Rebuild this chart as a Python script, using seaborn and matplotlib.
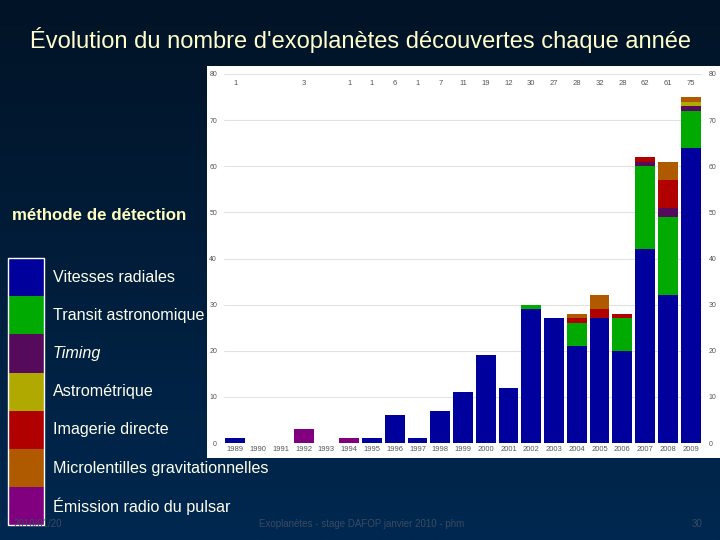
import numpy as np
import pandas as pd
import matplotlib
matplotlib.use("Agg")
import matplotlib.pyplot as plt
from matplotlib.patches import Rectangle
import seaborn as sns

# ---------------- data ----------------
years = list(range(1989, 2010))
totals_labels = ["1", "", "", "3", "", "1", "1", "6", "1", "7", "11", "19", "12",
                 "30", "27", "28", "32", "28", "62", "61", "75"]
methods = ["Vitesses radiales", "Transit astronomique", "Timing", "Astrométrique",
           "Imagerie directe", "Microlentilles gravitationnelles", "Émission radio du pulsar"]
radial   = [1, 0, 0, 0, 0, 0, 1, 6, 1, 7, 11, 19, 12, 29, 27, 21, 27, 20, 42, 32, 64]
transit  = [0, 0, 0, 0, 0, 0, 0, 0, 0, 0, 0, 0, 0, 1, 0, 5, 0, 7, 18, 17, 8]
timing   = [0, 0, 0, 0, 0, 0, 0, 0, 0, 0, 0, 0, 0, 0, 0, 0, 0, 0, 1, 2, 1]
astrom   = [0, 0, 0, 0, 0, 0, 0, 0, 0, 0, 0, 0, 0, 0, 0, 0, 0, 0, 0, 0, 1]
imaging  = [0, 0, 0, 0, 0, 0, 0, 0, 0, 0, 0, 0, 0, 0, 0, 1, 2, 1, 1, 6, 0]
microlens= [0, 0, 0, 0, 0, 0, 0, 0, 0, 0, 0, 0, 0, 0, 0, 1, 3, 0, 0, 4, 1]
pulsar   = [0, 0, 0, 3, 0, 1, 0, 0, 0, 0, 0, 0, 0, 0, 0, 0, 0, 0, 0, 0, 0]
colors = ["#00009c", "#00aa00", "#560a5c", "#b0aa00", "#b00000", "#b05a00", "#800080"]

series = [radial, transit, timing, astrom, imaging, microlens, pulsar]
rows = []
for m, vals in zip(methods, series):
    for y, v in zip(years, vals):
        rows.append({"year": y, "method": m, "count": v})
df = pd.DataFrame(rows)

# ---------------- figure ----------------
sns.set_theme(style="white")
plt.rcParams["font.family"] = ["Liberation Sans", "DejaVu Sans"]
W, H = 720, 540
fig = plt.figure(figsize=(7.2, 5.4), dpi=100)

# background gradient
bg = fig.add_axes([0, 0, 1, 1], zorder=-10)
grad = np.linspace(0, 1, 256).reshape(-1, 1)
top = np.array([0x02, 0x13, 0x26]) / 255
bot = np.array([0x00, 0x28, 0x50]) / 255
img = top[None, None, :] * (1 - grad[:, :, None]) + bot[None, None, :] * grad[:, :, None]
bg.imshow(img, aspect="auto", extent=[0, 1, 0, 1], origin="upper")
bg.set_xlim(0, 1); bg.set_ylim(0, 1)
bg.axis("off")

def fx(px):
    return px / W

def fy(py):
    return 1 - py / H

# white panel
fig.patches.append(Rectangle((fx(207), fy(458)), fx(720) - fx(207), fy(66) - fy(458),
                             transform=fig.transFigure, facecolor="white",
                             edgecolor="none", zorder=-5))

# main axes
ax_l, ax_r, ax_t, ax_b = 224, 702, 74, 443
ax = fig.add_axes([fx(ax_l), fy(ax_b), fx(ax_r) - fx(ax_l), fy(ax_t) - fy(ax_b)])
ax.set_facecolor("none")
sns.histplot(data=df, x="year", weights="count", hue="method",
             hue_order=methods[::-1], palette=dict(zip(methods, colors)),
             multiple="stack", discrete=True, shrink=0.87, alpha=1,
             linewidth=0, legend=False, ax=ax)
ax.set_xlim(1988.5, 2009.5)
ax.set_ylim(0, 80)
ax.set_yticks(range(0, 81, 10))
ax.set_xticks(years)
ax.set_xticklabels([str(y) for y in years], fontsize=5.5, color="#555555")
ax.tick_params(axis="x", length=0, pad=2)
ax.tick_params(axis="y", length=0, pad=5, labelsize=5, labelcolor="#555555",
               labelleft=True, labelright=True)
ax.set_xlabel("")
ax.set_ylabel("")
for s in ax.spines.values():
    s.set_visible(False)
ax.grid(axis="y", color="#e2e2e2", linewidth=0.8)
ax.set_axisbelow(True)
for y, lab in zip(years, totals_labels):
    if lab:
        ax.text(y, 78, lab, ha="center", va="center", fontsize=5.5, color="#555555")

# title
fig.text(0.5, fy(40), "Évolution du nombre d'exoplanètes découvertes chaque année",
         ha="center", va="center", fontsize=17, color="#ffffcc")

# legend block
fig.text(fx(12), fy(216), "méthode de détection", ha="left", va="center",
         fontsize=12.2, fontweight="bold", color="#ffffc0")
box_top, box_h = 258, 38.2
for i, (m, c) in enumerate(zip(methods, colors)):
    y0 = box_top + i * box_h
    fig.patches.append(Rectangle((fx(8), fy(y0 + box_h)), fx(44) - fx(8),
                                 fy(y0) - fy(y0 + box_h), transform=fig.transFigure,
                                 facecolor=c, edgecolor="none", zorder=2))
    fig.text(fx(53), fy(y0 + box_h / 2), m, ha="left", va="center", fontsize=11.6,
             color="#ffffee", style="italic" if m == "Timing" else "normal")
fig.patches.append(Rectangle((fx(8), fy(box_top + 7 * box_h)), fx(44) - fx(8),
                             fy(box_top) - fy(box_top + 7 * box_h), transform=fig.transFigure,
                             facecolor="none", edgecolor="white", linewidth=1, zorder=3))

# footer
fig.text(fx(14), fy(524), "2010/01/20", ha="left", va="center", fontsize=7, color="#3a4a60")
fig.text(fx(362), fy(524), "Exoplanètes - stage DAFOP janvier 2010 - phm", ha="center",
         va="center", fontsize=7, color="#3a4a60")
fig.text(fx(702), fy(524), "30", ha="right", va="center", fontsize=7, color="#3a4a60")

fig.savefig("out.png", dpi=100)
